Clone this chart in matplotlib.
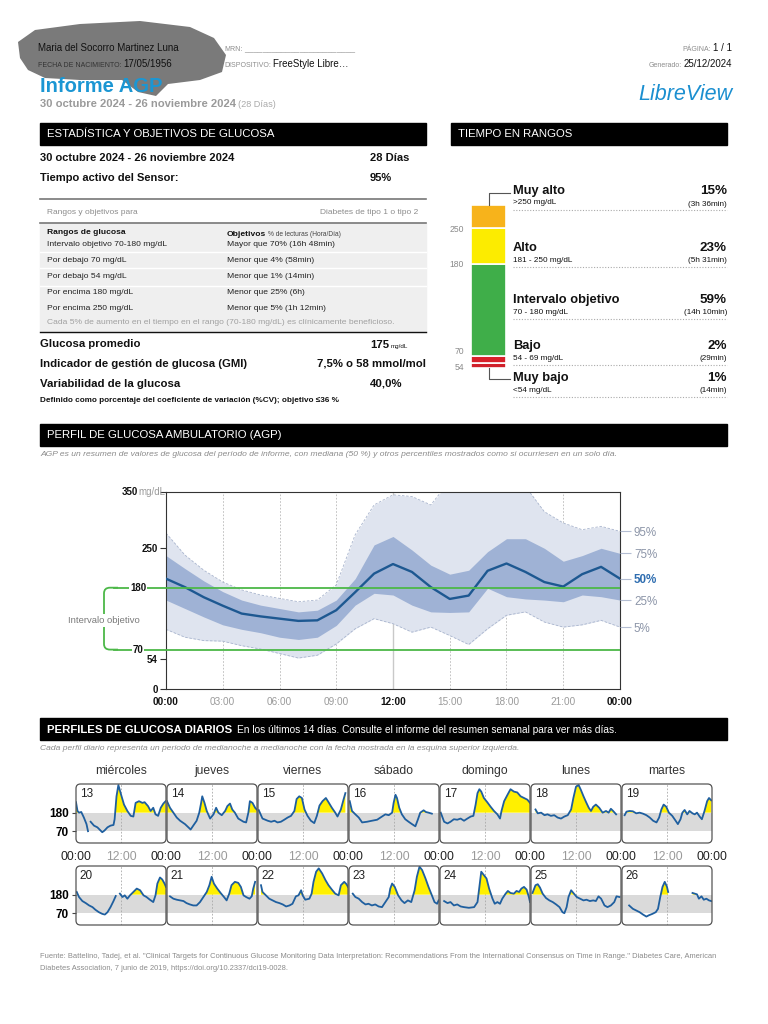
import numpy as np
import matplotlib
matplotlib.use("Agg")
import matplotlib.pyplot as plt
from matplotlib.patches import Rectangle, FancyBboxPatch, Polygon, PathPatch
from matplotlib.lines import Line2D
from matplotlib.path import Path
from matplotlib.transforms import Affine2D, blended_transform_factory

plt.rcParams['font.family'] = ['Liberation Sans', 'DejaVu Sans']

nan = np.nan

# ---- tiempo en rangos (de abajo hacia arriba)
tir_names = ["Muy bajo", "Bajo", "Intervalo objetivo", "Alto", "Muy alto"]
tir_pct = [1, 2, 59, 23, 15]
tir_time = ["(14min)", "(29min)", "(14h 10min)", "(5h 31min)", "(3h 36min)"]
tir_range = ["<54 mg/dL", "54 - 69 mg/dL", "70 - 180 mg/dL", "181 - 250 mg/dL", ">250 mg/dL"]
tir_ticks = ["54", "70", "180", "250"]
tir_colors = ["#d01f2a", "#d7202a", "#3fae49", "#fcec00", "#f7b31b"]

# ---- AGP percentiles (hora del dia)
agp_hours = list(range(25))
p95 = [277, 238, 211, 190, 176, 167, 161, 155, 158, 185, 274, 327, 345, 342, 327,
       370, 370, 370, 370, 360, 315, 295, 283, 289, 280]
p75 = [237, 214, 192, 173, 158, 149, 143, 137, 140, 158, 196, 256, 271, 247, 220,
       204, 211, 244, 267, 267, 250, 227, 237, 250, 241]
p50 = [196, 181, 163, 148, 134, 129, 125, 121, 122, 140, 172, 205, 222, 208, 181,
       160, 166, 210, 223, 208, 190, 182, 204, 217, 196]
p25 = [158, 143, 128, 114, 106, 100, 92, 88, 92, 113, 149, 170, 167, 149, 137,
       136, 137, 179, 164, 160, 158, 155, 167, 164, 158]
p5 = [106, 92, 86, 85, 77, 71, 63, 55, 60, 80, 107, 125, 116, 101, 110,
      95, 79, 107, 131, 137, 119, 110, 114, 122, 110]
agp_xlabels = ["00:00", "03:00", "06:00", "09:00", "12:00", "15:00", "18:00", "21:00", "00:00"]
target_low, target_high = 70, 180

# ---- perfiles diarios
weekdays = ["miércoles", "jueves", "viernes", "sábado", "domingo", "lunes", "martes"]
day_numbers = [13, 14, 15, 16, 17, 18, 19, 20, 21, 22, 23, 24, 25, 26]

d13_h = [0, 0.4, 0.8, 1.4, 2.1, 2.8, 3.2, 3.5, 3.9, 4.8, 5.7, 7.0, 7.6, 8.4, 9.2, 10.0, 10.3, 10.8,
         11.3, 11.9, 12.8, 13.7, 14.6, 15.3, 15.9, 16.8, 17.7, 18.3, 19.2, 19.9, 20.6, 21.2, 21.9,
         22.6, 23.3, 23.9]
d13_v = [242, 190, 180, 184, 151, 112, 70, nan, 126, 103, 93, 64, 74, 93, 103, 107, 141, 277,
         344, 296, 228, 190, 161, 157, 238, 248, 238, 242, 219, 190, 209, 170, 161, 209, 234, 248]
d14_h = [0, 0.8, 1.7, 2.6, 3.5, 4.8, 5.7, 6.3, 7.0, 7.9, 8.6, 9.1, 9.4, 10.0, 10.6, 11.5, 12.4,
         13.1, 13.7, 14.6, 15.5, 16.1, 16.8, 17.4, 18.1, 19.0, 20.4, 21.1, 21.7, 22.1, 22.8, 23.5, 23.9]
d14_v = [248, 209, 180, 151, 132, 112, 93, 80, 103, 132, 180, 238, 277, 238, 190, 145, 170,
         209, 180, 165, 190, 219, 234, 199, 180, 145, 126, 122, 180, 248, 238, 209, 199]
d15_h = [0.2, 1.2, 2.6, 3.5, 4.4, 5.2, 6.1, 7.0, 7.9, 8.8, 9.7, 10.3, 11.0, 11.7, 12.4, 13.2, 14.1,
         15.0, 15.7, 16.4, 17.2, 18.1, 18.8, 19.7, 20.6, 21.2, 22.1, 22.8, 23.3]
d15_v = [195, 145, 132, 126, 132, 122, 126, 138, 151, 161, 190, 261, 277, 267, 199, 161, 132,
         118, 161, 222, 248, 267, 242, 209, 180, 157, 199, 257, 296]
d16_h = [0.2, 0.8, 1.7, 2.6, 3.5, 4.8, 6.1, 7.5, 8.8, 9.7, 10.6, 11.5, 11.9, 12.4, 12.8, 13.4, 14.1,
         15.0, 15.9, 16.8, 17.7, 18.4, 19.0, 19.9, 20.5, 21.2, 22.1]
d16_v = [248, 190, 170, 151, 122, 126, 132, 138, 157, 170, 165, 180, 238, 286, 267, 209, 170,
         141, 126, 112, 99, 141, 180, 194, 184, 180, 174]
d17_h = [0.2, 1.1, 2.0, 2.8, 3.7, 4.6, 5.5, 6.4, 7.3, 8.2, 8.9, 9.5, 10.0, 10.5, 11.0, 11.7, 12.6,
         13.5, 14.4, 15.3, 16.0, 16.4, 17.1, 18.0, 18.8, 19.7, 20.6, 21.5, 22.4, 23.3, 24.0]
d17_v = [180, 126, 116, 126, 141, 138, 145, 132, 145, 157, 161, 228, 296, 319, 305, 267, 242,
         215, 190, 170, 145, 190, 248, 286, 319, 305, 300, 277, 267, 257, 238]
d18_h = [1.2, 1.8, 2.7, 3.6, 4.4, 5.3, 6.2, 7.1, 8.0, 8.9, 9.8, 10.7, 11.3, 12.0, 12.7, 13.3, 14.0,
         14.7, 15.4, 16.0, 16.6, 17.3, 18.2, 19.1, 20.0, 20.7, 21.3, 21.9, 22.7]
d18_v = [199, 176, 180, 165, 170, 161, 165, 151, 145, 157, 165, 199, 267, 334, 344, 315, 277,
         242, 209, 190, 215, 228, 209, 180, 190, 180, 203, 190, 170]
d19_h = [0.7, 1.2, 2.0, 2.9, 3.8, 4.7, 5.6, 6.5, 7.4, 8.3, 9.2, 9.9, 10.5, 11.1, 11.8, 12.5, 13.4,
         14.3, 14.9, 15.6, 16.1, 16.7, 17.4, 18.0, 18.8, 19.4, 20.0, 20.7, 21.3, 22.0, 22.7, 23.2, 23.8]
d19_v = [165, 186, 190, 188, 176, 180, 174, 165, 151, 132, 122, 151, 199, 228, 215, 180, 161,
         132, 112, 141, 180, 196, 170, 190, 176, 170, 180, 157, 141, 190, 248, 267, 253]
d20_h = [0.2, 0.8, 1.7, 2.6, 3.5, 4.4, 5.2, 6.1, 7.0, 7.7, 8.4, 9.2, 10.0, 10.6, 11.1, 11.7, 12.4,
         13.0, 13.7, 14.4, 15.3, 16.2, 17.1, 18.0, 18.8, 19.7, 20.6, 21.2, 21.7, 22.4, 23.0, 23.6, 24.0]
d20_v = [196, 166, 142, 130, 116, 106, 90, 76, 66, 62, 76, 106, 142, 172, nan, 186, 166,
         176, 156, 176, 196, 216, 206, 176, 166, 150, 136, 176, 246, 282, 270, 246, 226]
d21_h = [0.8, 1.7, 2.6, 3.5, 4.4, 5.2, 6.1, 7.0, 7.9, 8.8, 9.7, 10.6, 11.3, 11.9, 12.5, 13.4, 14.3,
         15.2, 15.9, 16.6, 17.2, 18.1, 19.0, 19.7, 20.4, 21.1, 22.0, 22.6, 23.0, 23.5]
d21_v = [170, 156, 150, 146, 142, 130, 122, 116, 116, 136, 166, 196, 236, 286, 246, 216, 190,
         166, 146, 186, 236, 256, 250, 226, 176, 166, 156, 170, 216, 256]
d22_h = [0.8, 1.2, 2.1, 3.0, 3.9, 4.8, 5.7, 6.6, 7.5, 8.4, 9.2, 10.1, 10.8, 11.5, 11.9, 12.6, 13.7,
         14.3, 14.8, 15.5, 16.2, 17.1, 18.0, 18.8, 19.7, 20.6, 21.5, 22.1, 23.0, 23.6, 24.0]
d22_v = [236, 196, 176, 156, 146, 136, 130, 122, 110, 116, 126, 170, 176, 206, 176, 150, 156,
         186, 256, 316, 336, 306, 266, 236, 210, 186, 176, 236, 256, 242, 226]
d23_h = [1.0, 1.7, 2.6, 3.5, 4.4, 5.2, 6.1, 7.0, 7.9, 8.8, 9.7, 10.6, 11.0, 11.5, 12.2, 13.1, 14.0,
         14.8, 15.7, 16.6, 17.5, 18.1, 18.8, 19.5, 20.4, 21.2, 22.1, 22.8, 23.5, 23.9]
d23_v = [186, 166, 156, 136, 122, 126, 116, 122, 110, 106, 136, 166, 216, 246, 226, 176, 146,
         130, 146, 136, 206, 286, 346, 326, 276, 226, 176, 136, 126, 146]
d24_h = [1.1, 2.0, 2.8, 3.7, 4.6, 5.5, 6.4, 7.7, 9.1, 10.0, 10.5, 11.0, 11.7, 12.4, 13.1, 14.0, 14.6,
         15.3, 16.0, 16.6, 17.5, 18.1, 18.8, 19.7, 20.4, 21.1, 21.7, 22.4, 23.1, 23.7, 24.0]
d24_v = [142, 130, 136, 116, 122, 110, 106, 102, 106, 136, 226, 316, 296, 276, 216, 156, 126,
         136, 126, 156, 186, 202, 190, 186, 202, 196, 216, 226, 210, 166, 136]
d25_h = [0.4, 1.2, 1.8, 2.4, 3.1, 4.0, 4.9, 5.8, 6.7, 7.6, 8.4, 8.9, 9.5, 10.0, 10.7, 11.3, 12.2,
         13.1, 14.0, 14.8, 15.7, 16.6, 17.3, 18.0, 18.7, 19.6, 20.4, 21.3, 22.2, 22.8, 23.6]
d25_v = [190, 236, 242, 222, 186, 160, 146, 136, 122, 106, 76, 70, 106, 166, 206, 190, 166,
         156, 146, 150, 142, 146, 142, 170, 156, 116, 106, 116, 136, 170, 166]
d26_h = [1.9, 2.9, 3.8, 4.7, 5.6, 6.5, 7.2, 8.1, 9.0, 9.6, 10.2, 10.8, 11.4, 12.0, 12.3, 15.0,
         18.8, 19.4, 20.0, 20.5, 21.2, 21.8, 22.5, 23.2, 23.8]
d26_v = [116, 96, 86, 76, 62, 50, 58, 66, 76, 96, 166, 226, 256, 226, 196, nan,
         190, 186, 182, 156, 170, 150, 156, 146, 142]

day_hours = [d13_h, d14_h, d15_h, d16_h, d17_h, d18_h, d19_h,
             d20_h, d21_h, d22_h, d23_h, d24_h, d25_h, d26_h]
day_values = [d13_v, d14_v, d15_v, d16_v, d17_v, d18_v, d19_v,
              d20_v, d21_v, d22_v, d23_v, d24_v, d25_v, d26_v]

W, H = 768, 1024
fig = plt.figure(figsize=(W / 100, H / 100), dpi=100)
PX = Affine2D().scale(1 / W, -1 / H).translate(0, 1) + fig.transFigure
renderer = fig.canvas.get_renderer()

DARK = "#111111"
GRAY = "#8c8c8c"
GREEN = "#4cb848"


def txt(x, y, s, size, color=DARK, weight="normal", ha="left", va="center", style="normal", **kw):
    return fig.text(x, y, s, transform=PX, fontsize=size, color=color, fontweight=weight,
                    ha=ha, va=va, fontstyle=style, **kw)


def seq(x, y, parts, ha="left", gap=2):
    # parts drawn one after the other on a common baseline
    cur = x
    items = parts if ha == "left" else parts[::-1]
    for s, size, color, weight in items:
        t = txt(cur, y, s, size, color, weight, ha=ha, va="baseline")
        w = t.get_window_extent(renderer).width + gap
        cur = cur + w if ha == "left" else cur - w


def hline(x0, x1, y, color, lw, ls="-", z=2):
    fig.add_artist(Line2D([x0, x1], [y, y], transform=PX, color=color, lw=lw, ls=ls, zorder=z))


def black_bar(x0, x1, y0, y1):
    fig.add_artist(Rectangle((x0, y0), x1 - x0, y1 - y0, transform=PX, color="black", zorder=1))


# ---------------- cabecera
blob = [(18, 42), (35, 30), (80, 24), (140, 21), (190, 27), (214, 38), (226, 55), (222, 72),
        (200, 80), (168, 84), (156, 96), (138, 92), (122, 80), (80, 80), (45, 78), (28, 70), (20, 58)]
fig.add_artist(Polygon(blob, closed=True, transform=PX, facecolor="#4d4d4d", alpha=0.75,
                       edgecolor="none", zorder=0.5))
txt(38, 48, "Maria del Socorro Martinez Luna", 7.0, "#111")
seq(38, 67, [("FECHA DE NACIMIENTO:", 5.0, "#333", "normal"), ("17/05/1956", 7.0, "#111", "normal")])
seq(224, 51, [("MRN:", 5.0, GRAY, "normal"), ("_" * 24, 6.0, "#777", "normal")])
seq(224, 67, [("DISPOSITIVO:", 5.0, GRAY, "normal"), ("FreeStyle Libre…", 7.0, "#111", "normal")])
seq(732, 51, [("PÁGINA:", 5.0, GRAY, "normal"), ("1 / 1", 7.0, "#111", "normal")], ha="right")
seq(732, 67, [("Generado:", 5.0, GRAY, "normal"), ("25/12/2024", 7.0, "#111", "normal")], ha="right")
txt(40, 86, "Informe AGP", 14.5, "#1b96d3", "bold")
seq(40, 107, [("30 octubre 2024 - 26 noviembre 2024", 8.1, "#9a9a9a", "bold"),
              ("(28 Días)", 6.6, "#aaaaaa", "normal")])
txt(732, 94, "LibreView", 15.5, "#1b8fd0", style="italic", ha="right")

# ---------------- estadistica
black_bar(40, 426, 123, 145)
txt(47, 134, "ESTADÍSTICA Y OBJETIVOS DE GLUCOSA", 8.2, "white")
black_bar(451, 727, 123, 145)
txt(458, 134, "TIEMPO EN RANGOS", 8.2, "white")

txt(40, 158, "30 octubre 2024 - 26 noviembre 2024", 8.0, DARK, "bold")
txt(370, 158, "28 Días", 8.0, DARK, "bold")
txt(40, 178, "Tiempo activo del Sensor:", 8.0, DARK, "bold")
txt(370, 178, "95%", 8.0, DARK, "bold")

hline(40, 426, 199, "#777777", 1.2)
txt(47, 212, "Rangos y objetivos para", 6.0, GRAY)
txt(418, 212, "Diabetes de tipo 1 o tipo 2", 6.0, GRAY, ha="right")
fig.add_artist(Rectangle((40, 223), 386, 109, transform=PX, color="#efefef", zorder=0.8))
hline(40, 426, 223, "#777777", 1.2)
for yy in [252, 268, 286]:
    hline(40, 426, yy, "white", 1.0)
hline(40, 426, 332, "#111111", 1.0)

txt(47, 233, "Rangos de glucosa", 6.1, DARK, "bold")
seq(227, 236, [("Objetivos", 6.1, DARK, "bold"), ("% de lecturas (Hora/Día)", 4.8, "#444", "normal")])
box_rows = [("Intervalo objetivo 70-180 mg/dL", "Mayor que 70% (16h 48min)", 245),
            ("Por debajo 70 mg/dL", "Menor que 4% (58min)", 261),
            ("Por debajo 54 mg/dL", "Menor que 1% (14min)", 277),
            ("Por encima 180 mg/dL", "Menor que 25% (6h)", 293),
            ("Por encima 250 mg/dL", "Menor que 5% (1h 12min)", 308)]
for a, b, yy in box_rows:
    txt(47, yy, a, 6.1, "#222")
    txt(227, yy, b, 6.1, "#222")
txt(47, 323, "Cada 5% de aumento en el tiempo en el rango (70-180 mg/dL) es clínicamente beneficioso.",
    6.1, "#a0a0a0")

txt(40, 344, "Glucosa promedio", 8.2, DARK, "bold")
seq(370, 348, [("175", 8.2, DARK, "bold"), ("mg/dL", 4.5, DARK, "normal")])
txt(40, 364, "Indicador de gestión de glucosa (GMI)", 8.2, DARK, "bold")
txt(426, 364, "7,5% o 58 mmol/mol", 8.2, DARK, "bold", ha="right")
txt(40, 384, "Variabilidad de la glucosa", 8.2, DARK, "bold")
txt(370, 384, "40,0%", 8.2, DARK, "bold")
txt(40, 400, "Definido como porcentaje del coeficiente de variación (%CV); objetivo ≤36 %", 5.9,
    DARK, "bold")

# ---------------- barra tiempo en rangos
pct_arr = np.array(tir_pct, dtype=float)
disp = np.where(pct_arr < 5, pct_arr + 2.5, pct_arr)
bottoms = np.concatenate([[0], np.cumsum(disp)[:-1]])
axt = fig.add_axes([471 / W, 1 - 368 / H, 35 / W, 163 / H])
axt.bar(0, disp, bottom=bottoms, width=1, color=tir_colors, edgecolor="white", linewidth=1.2)
axt.set_xlim(-0.5, 0.5)
axt.set_ylim(0, disp.sum())
for s in axt.spines.values():
    s.set_visible(False)
axt.set_xticks([])
axt.set_yticks(np.cumsum(disp)[:-1])
axt.set_yticklabels(tir_ticks)
axt.tick_params(axis="y", length=0, pad=5, labelsize=6.2, labelcolor="#8a8a8a")
axt.get_yticklabels()[1].set_va("bottom")
axt.get_yticklabels()[0].set_va("top")

fig.add_artist(Line2D([489, 489, 510], [205, 193, 193], transform=PX, color="#555", lw=0.8))
fig.add_artist(Line2D([489, 489, 510], [368, 379, 379], transform=PX, color="#555", lw=0.8))

tir_rows_y = [378, 346, 300, 248, 191]
for name, pct, tm, rg, yy in zip(tir_names, tir_pct, tir_time, tir_range, tir_rows_y):
    txt(513, yy, name, 9.3, DARK, "bold")
    txt(513, yy + 12, rg, 5.9, DARK)
    txt(727, yy, f"{pct}%", 9.6, DARK, "bold", ha="right")
    txt(727, yy + 13, tm, 5.9, DARK, ha="right")
    hline(513, 727, yy + 19, "#aaaaaa", 0.8, ls=(0, (1, 1.5)))

# ---------------- AGP
black_bar(40, 727, 424, 446)
txt(47, 435, "PERFIL DE GLUCOSA AMBULATORIO (AGP)", 8.2, "white")
txt(40, 455, "AGP es un resumen de valores de glucosa del período de informe, con mediana (50 %) y otros "
             "percentiles mostrados como si ocurriesen en un solo día.", 6.1, "#8a8a8a", style="italic")

ax = fig.add_axes([166 / W, 1 - 689 / H, (620 - 166) / W, (689 - 492) / H])
ax.set_xlim(0, 24)
ax.set_ylim(0, 350)
for hh in [3, 6, 9, 15, 18, 21]:
    ax.axvline(hh, color="#b8b8b8", lw=0.6, ls=(0, (2, 2)), zorder=0.5)
ax.axvline(12, color="#c9c9c9", lw=1.0, zorder=0.5)
ax.fill_between(agp_hours, p5, p95, color="#dfe4ef", lw=0, zorder=1)
ax.plot(agp_hours, p95, color="#a8b4cd", lw=0.6, ls=(0, (3, 2)), zorder=1.2)
ax.plot(agp_hours, p5, color="#a8b4cd", lw=0.6, ls=(0, (3, 2)), zorder=1.2)
ax.fill_between(agp_hours, p25, p75, color="#9fb2d5", lw=0, zorder=2)
ax.plot(agp_hours, p50, color="#1d5891", lw=1.7, zorder=3, solid_joinstyle="round")
ax.axhline(target_high, color=GREEN, lw=1.3, zorder=4)
ax.axhline(target_low, color=GREEN, lw=1.3, zorder=4)
for s in ax.spines.values():
    s.set_color("#333333")
    s.set_linewidth(0.8)
ax.set_xticks(range(0, 25, 3))
ax.set_xticklabels(agp_xlabels)
ax.tick_params(axis="x", length=0, pad=6, labelsize=7.2)
for i, lab in enumerate(ax.get_xticklabels()):
    if agp_xlabels[i] in ("00:00", "12:00"):
        lab.set_color("#111111")
        lab.set_fontweight("bold")
    else:
        lab.set_color("#9a9a9a")
ax.set_yticks([0, 54, 250, 350])
ax.set_yticklabels(["0", "54", "250", ""])
ax.tick_params(axis="y", length=4, width=0.8, color="#333", pad=2, labelsize=7)
for lab in ax.get_yticklabels():
    lab.set_fontweight("bold")
    lab.set_color("#111")
seq(165, 495, [("350", 7, "#111", "bold"), ("mg/dL", 7, "#9a9a9a", "normal")], ha="right", gap=0)

bt = blended_transform_factory(PX, ax.transData)
for v in (target_high, target_low):
    fig.add_artist(Line2D([114, 166], [v, v], transform=bt, color=GREEN, lw=1.3, zorder=-1))
    fig.text(138, v, str(v), transform=bt, fontsize=7, fontweight="bold", color="#111",
             ha="center", va="center", bbox=dict(facecolor="white", edgecolor="none", pad=0.8))
br = Path([(118, 180), (110, 180), (104, 180), (104, 170), (104, 80), (104, 70), (110, 70), (118, 70)],
          [Path.MOVETO, Path.LINETO, Path.CURVE3, Path.CURVE3, Path.LINETO, Path.CURVE3, Path.CURVE3,
           Path.LINETO])
fig.add_artist(PathPatch(br, transform=bt, fill=False, edgecolor=GREEN, lw=1.3, zorder=-1))
fig.text(104, 122, "Intervalo objetivo", transform=bt, fontsize=6.8, color="#7a7a7a", ha="center",
         va="center", bbox=dict(facecolor="white", edgecolor="none", pad=1.5))

ax2 = ax.twinx()
ax2.set_ylim(0, 350)
for s in ax2.spines.values():
    s.set_visible(False)
ax2.set_yticks([p95[-1], p75[-1], p50[-1], p25[-1], p5[-1]])
ax2.set_yticklabels(["95%", "75%", "50%", "25%", "5%"])
ax2.tick_params(axis="y", length=8, width=0.8, color="#b3bdd2", pad=2, labelsize=8.4,
                labelcolor="#8c95a8")
lab50 = ax2.get_yticklabels()[2]
lab50.set_color("#2e6db0")
lab50.set_fontweight("bold")

# ---------------- perfiles diarios
black_bar(40, 727, 718, 740)
seq(47, 733, [("PERFILES DE GLUCOSA DIARIOS", 8.2, "white", "bold"),
              ("En los últimos 14 días. Consulte el informe del resumen semanal para ver más días.",
               7.3, "white", "normal")], gap=5)
txt(40, 749, "Cada perfil diario representa un periodo de medianoche a medianoche con la fecha mostrada "
             "en la esquina superior izquierda.", 6.1, "#8a8a8a", style="italic")

for i, (num, hh, vv) in enumerate(zip(day_numbers, day_hours, day_values)):
    row, col = divmod(i, 7)
    x0 = 76 + col * 91
    ytop = 784 if row == 0 else 866
    axd = fig.add_axes([x0 / W, 1 - (ytop + 59) / H, 90 / W, 59 / H])
    axd.set_xlim(0, 24)
    axd.set_ylim(0, 350)
    hh = np.array(hh, dtype=float)
    vv = np.array(vv, dtype=float)
    axd.axhspan(target_low, target_high, color="#dadada", lw=0, zorder=0)
    axd.axvline(12, color="#a8a8a8", lw=0.6, ls=(0, (2, 2)), zorder=0.6)
    axd.fill_between(hh, vv, 180, where=vv > 180, interpolate=True, color="#fff000", lw=0, zorder=1)
    axd.fill_between(hh, vv, 54, where=vv < 54, interpolate=True, color="#d7202a", lw=0, zorder=1)
    axd.plot(hh, vv, color="#1f5f9f", lw=1.3, zorder=3, solid_joinstyle="round")
    for s in axd.spines.values():
        s.set_visible(False)
    axd.add_patch(FancyBboxPatch((0, 0), 1, 1, boxstyle="round,pad=0,rounding_size=0.05",
                                 mutation_aspect=90 / 59, transform=axd.transAxes, fill=False,
                                 edgecolor="#555555", lw=0.9, clip_on=False, zorder=5))
    axd.text(0.04, 0.93, str(num), transform=axd.transAxes, va="top", ha="left", fontsize=8.5,
             color="#222")
    if col == 0:
        axd.set_yticks([target_low, target_high])
        axd.set_yticklabels([str(target_low), str(target_high)])
        axd.tick_params(axis="y", length=3, width=0.8, color="#444", pad=2, labelsize=8.5)
        for lab in axd.get_yticklabels():
            lab.set_fontweight("bold")
    else:
        axd.set_yticks([])
    if row == 0:
        ticks = [0, 12, 24] if col == 0 else [12, 24]
        axd.set_xticks(ticks)
        axd.set_xticklabels(["12:00" if t == 12 else "00:00" for t in ticks])
        axd.tick_params(axis="x", length=0, pad=6, labelsize=8.7)
        for t, lab in zip(ticks, axd.get_xticklabels()):
            lab.set_color("#9a9a9a" if t == 12 else "#222222")
        txt(x0 + 45, 771, weekdays[col], 8.7, "#333", ha="center")
    else:
        axd.set_xticks([])

txt(40, 957, "Fuente: Battelino, Tadej, et al. \"Clinical Targets for Continuous Glucose Monitoring Data "
             "Interpretation: Recommendations From the International Consensus on Time in Range.\" "
             "Diabetes Care, American", 5.45, "#8a8a8a")
txt(40, 968, "Diabetes Association, 7 junio de 2019, https://doi.org/10.2337/dci19-0028.", 5.45, "#8a8a8a")

fig.savefig("out.png", dpi=100)
